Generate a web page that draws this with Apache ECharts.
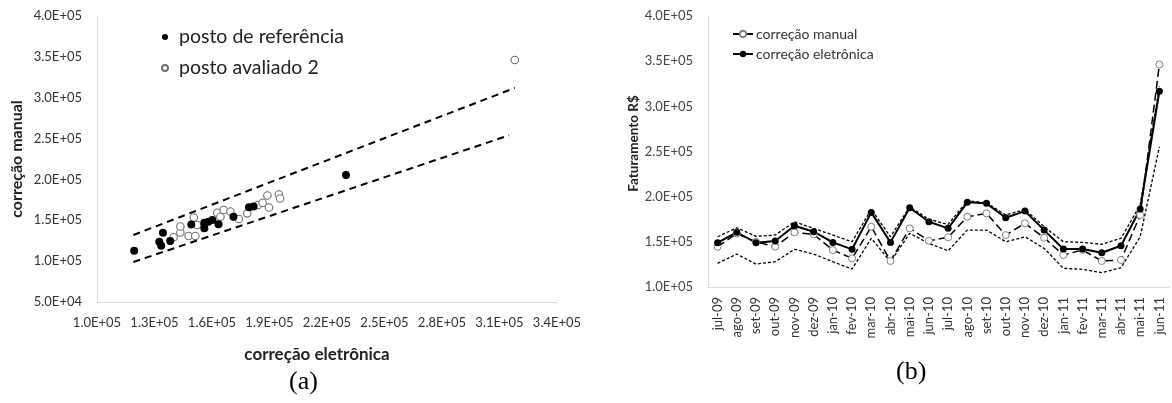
<!DOCTYPE html>
<html>
<head>
<meta charset="utf-8">
<script src="https://cdn.jsdelivr.net/npm/echarts@6/dist/echarts.min.js"></script>
<style>
  html, body { margin: 0; padding: 0; background: #fff; }
  #chart { width: 1172px; height: 403px; }
</style>
</head>
<body>
<div id="chart"></div>
<script>
// (a) dispersao: posto de referencia (pontos cheios)
const refX = [119400, 134400, 132500, 133500, 138200, 149200, 156000, 156000, 158100, 160200, 163400, 171200, 179300, 181700, 229900];
const refY = [112800, 134800, 123800, 118900, 124700, 144800, 147000, 140200, 148300, 150300, 145100, 154400, 165900, 166900, 205400];
// (a) posto avaliado 2 (pontos vazios)
const avalX = [140000, 143500, 143500, 147800, 151300, 150500, 152200, 162700, 164400, 166100, 169600, 174000, 178400, 184000, 186400, 188900, 189700, 194900, 195500, 318000];
const avalY = [129200, 135100, 142400, 130800, 130800, 153400, 144200, 159300, 154400, 162600, 160800, 151600, 158500, 168700, 171500, 180300, 165600, 181600, 176700, 346100];
// (a) limites tracejados
const limSupX = [119000, 318000];
const limSupY = [132000, 312000];
const limInfX = [119000, 315000];
const limInfY = [99000, 254000];

// (b) serie mensal
const meses = ['jul-09','ago-09','set-09','out-09','nov-09','dez-09','jan-10','fev-10','mar-10','abr-10','mai-10','jun-10',
               'jul-10','ago-10','set-10','out-10','nov-10','dez-10','jan-11','fev-11','mar-11','abr-11','mai-11','jun-11'];
const corrManual = [144600, 159200, 150000, 144600, 160500, 158300, 140900, 131700, 166700, 128800, 164900, 151200,
                    155000, 177800, 181500, 157500, 170500, 154500, 135400, 141000, 128800, 129900, 179600, 346300];
const corrEletronica = [149000, 160500, 149000, 150900, 167800, 161200, 149400, 141700, 182600, 149400, 187700, 172200,
                        164900, 193700, 192600, 176600, 184000, 163000, 142000, 142000, 137900, 145700, 186300, 316800];
const limiteSup = [155600, 165600, 156000, 157500, 172200, 164900, 157500, 150100, 185900, 155600, 188800, 174900,
                   169300, 195400, 193200, 179600, 185900, 166700, 150100, 149400, 147200, 153900, 190700, 322000];
const limiteInf = [126200, 136500, 125400, 128000, 141700, 136500, 128000, 119900, 153900, 128000, 159400, 148300,
                   140100, 163000, 163000, 150100, 155600, 142800, 120700, 119600, 115800, 121300, 155600, 255200];

// eixo x de (a) comeca em 1.0E+05 com passo 3E+04: desloca os valores
const X0 = 100000;
const FONT = 'Lato';

function sci(v) {
    if (v === 0) return '0.0E+00';
    let e = Math.floor(Math.log10(v) + 1e-9);
    let m = v / Math.pow(10, e);
    return m.toFixed(1) + 'E+' + (e < 10 ? '0' : '') + e;
}
function pares(xs, ys, dx) {
    return xs.map((x, i) => [x - dx, ys[i]]);
}

let chart = echarts.init(document.getElementById('chart'));

let axisLine = { show: true, lineStyle: { color: '#d9d9d9', width: 1 } };

let option = {
    animation: false,
    backgroundColor: '#fff',
    textStyle: { fontFamily: FONT },
    grid: [
        { left: 97, top: 16, width: 460, height: 286 },
        { left: 708, top: 16, width: 461, height: 271 }
    ],
    xAxis: [
        {
            type: 'value', gridIndex: 0, min: 0, max: 240000, interval: 30000,
            axisLine: axisLine, axisTick: { show: false }, splitLine: { show: false },
            axisLabel: { formatter: v => sci(v + X0), fontSize: 13, color: '#333', margin: 14, fontFamily: FONT },
            name: 'correção eletrônica', nameLocation: 'middle', nameGap: 44,
            nameTextStyle: { fontSize: 17, fontWeight: 'bold', color: '#222', fontFamily: FONT, padding: [0, 20, 0, 0] }
        },
        {
            type: 'category', gridIndex: 1, data: meses, boundaryGap: true,
            axisLine: axisLine, axisTick: { show: false }, splitLine: { show: false },
            axisLabel: { rotate: 90, interval: 0, fontSize: 13, color: '#333', margin: 10, fontFamily: FONT }
        }
    ],
    yAxis: [
        {
            type: 'value', gridIndex: 0, min: 50000, max: 400000, interval: 50000,
            axisLine: axisLine, axisTick: { show: false }, splitLine: { show: false },
            axisLabel: { formatter: sci, fontSize: 13, color: '#333', margin: 15, fontFamily: FONT },
            name: 'correção manual', nameLocation: 'middle', nameGap: 72, nameRotate: 90,
            nameTextStyle: { fontSize: 16, fontWeight: 'bold', color: '#222', fontFamily: FONT }
        },
        {
            type: 'value', gridIndex: 1, min: 100000, max: 400000, interval: 50000,
            axisLine: axisLine, axisTick: { show: false }, splitLine: { show: false },
            axisLabel: { formatter: sci, fontSize: 13, color: '#444', margin: 15, fontFamily: FONT },
            name: 'Faturamento R$', nameLocation: 'middle', nameGap: 66, nameRotate: 90,
            nameTextStyle: { fontSize: 13.5, fontWeight: 'bold', color: '#222', fontFamily: FONT, padding: [0, 0, 0, 16] }
        }
    ],
    legend: [
        {
            data: ['posto de referência', 'posto avaliado 2'],
            orient: 'vertical', left: 156, top: 22, itemGap: 11,
            icon: 'circle', itemWidth: 18, itemHeight: 6,
            textStyle: { fontSize: 19.5, color: '#222', fontFamily: FONT }
        },
        {
            data: ['correção manual', 'correção eletrônica'],
            orient: 'vertical', left: 727, top: 22, itemGap: 6, itemWidth: 20, itemHeight: 8,
            textStyle: { fontSize: 14, color: '#333', fontFamily: FONT, padding: [0, 0, 0, -2] }
        }
    ],
    graphic: [
        { type: 'text', left: 289, top: 369, style: { text: '(a)', font: '26px "Liberation Serif"', fill: '#000' } },
        { type: 'text', left: 896, top: 359, style: { text: '(b)', font: '26px "Liberation Serif"', fill: '#000' } }
    ],
    series: [
        {
            type: 'line', xAxisIndex: 0, yAxisIndex: 0, data: pares(limSupX, limSupY, X0),
            symbol: 'none', lineStyle: { color: '#000', width: 2, type: [7, 5] }, silent: true
        },
        {
            type: 'line', xAxisIndex: 0, yAxisIndex: 0, data: pares(limInfX, limInfY, X0),
            symbol: 'none', lineStyle: { color: '#000', width: 2, type: [7, 5] }, silent: true
        },
        {
            name: 'posto avaliado 2', type: 'scatter', xAxisIndex: 0, yAxisIndex: 0,
            data: pares(avalX, avalY, X0), symbolSize: 7.5,
            itemStyle: { color: '#fff', borderColor: '#6f6f6f', borderWidth: 1.1, opacity: 1 }
        },
        {
            name: 'posto de referência', type: 'scatter', xAxisIndex: 0, yAxisIndex: 0,
            data: pares(refX, refY, X0), symbolSize: 8,
            itemStyle: { color: '#000', opacity: 1 }
        },
        {
            name: 'limite superior', type: 'line', xAxisIndex: 1, yAxisIndex: 1, data: limiteSup,
            symbol: 'none', lineStyle: { color: '#000', width: 1.3, type: [3, 2] }
        },
        {
            name: 'limite inferior', type: 'line', xAxisIndex: 1, yAxisIndex: 1, data: limiteInf,
            symbol: 'none', lineStyle: { color: '#000', width: 1.3, type: [3, 2] }
        },
        {
            name: 'correção manual', type: 'line', xAxisIndex: 1, yAxisIndex: 1, data: corrManual,
            symbol: 'circle', symbolSize: 7, showAllSymbol: true,
            lineStyle: { color: '#000', width: 1.5, type: [8, 4] },
            itemStyle: { color: '#fff', borderColor: '#808080', borderWidth: 1 }
        },
        {
            name: 'correção eletrônica', type: 'line', xAxisIndex: 1, yAxisIndex: 1, data: corrEletronica,
            symbol: 'circle', symbolSize: 7, showAllSymbol: true,
            lineStyle: { color: '#000', width: 2 },
            itemStyle: { color: '#000' }
        }
    ]
};

chart.setOption(option);
</script>
</body>
</html>
